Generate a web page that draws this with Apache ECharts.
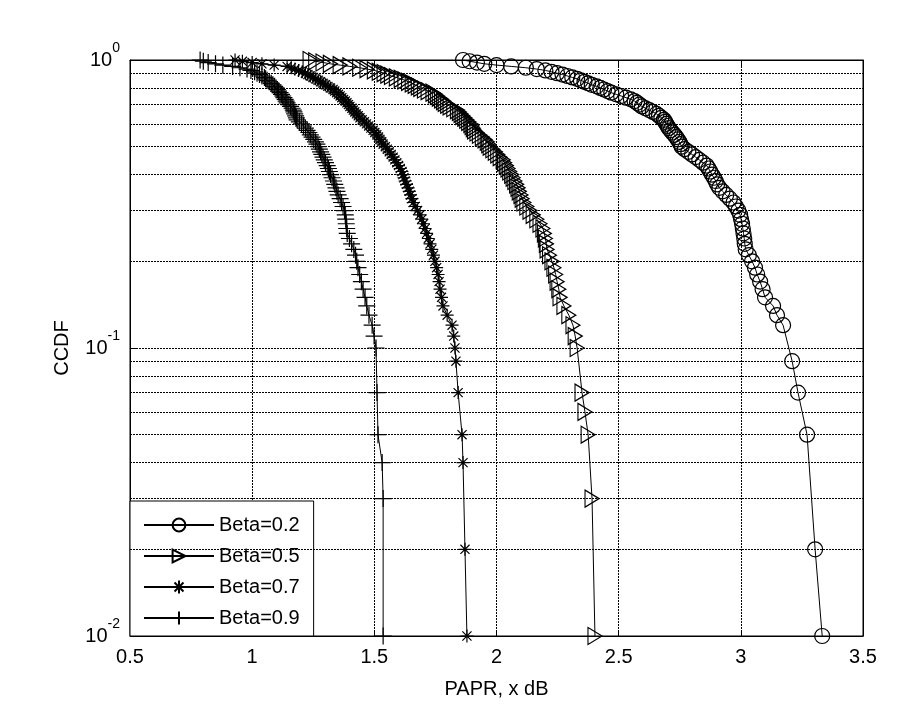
<!DOCTYPE html>
<html>
<head>
<meta charset="utf-8">
<title>CCDF of PAPR</title>
<script src="https://cdn.jsdelivr.net/npm/echarts@6/dist/echarts.min.js"></script>
<style>
  html, body { margin: 0; padding: 0; background: #fff; }
  #chart { width: 921px; height: 724px; }
</style>
</head>
<body>
<div id="chart"></div>
<script>
// CCDF levels shared by every curve (1.00 down to 0.12)
const ccdfTop = [
  1.00, 0.99, 0.98, 0.97, 0.96, 0.95, 0.94, 0.93, 0.92, 0.91,
  0.90, 0.89, 0.88, 0.87, 0.86, 0.85, 0.84, 0.83, 0.82, 0.81,
  0.80, 0.79, 0.78, 0.77, 0.76, 0.75, 0.74, 0.73, 0.72, 0.71,
  0.70, 0.69, 0.68, 0.67, 0.66, 0.65, 0.64, 0.63, 0.62, 0.61,
  0.60, 0.59, 0.58, 0.57, 0.56, 0.55, 0.54, 0.53, 0.52, 0.51,
  0.50, 0.49, 0.48, 0.47, 0.46, 0.45, 0.44, 0.43, 0.42, 0.41,
  0.40, 0.39, 0.38, 0.37, 0.36, 0.35, 0.34, 0.33, 0.32, 0.31,
  0.30, 0.29, 0.28, 0.27, 0.26, 0.25, 0.24, 0.23, 0.22, 0.21,
  0.20, 0.19, 0.18, 0.17, 0.16, 0.15, 0.14, 0.13, 0.12
]

// low end levels where markers show up, per curve
const ccdfTail02 = [0.09, 0.07, 0.05, 0.02, 0.01]
const ccdfTail05 = [0.11, 0.10, 0.07, 0.06, 0.05, 0.03, 0.01]
const ccdfTail07 = [0.11, 0.10, 0.09, 0.07, 0.05, 0.04, 0.02, 0.01]
const ccdfTail09 = [0.11, 0.10, 0.07, 0.05, 0.04, 0.03, 0.01]

// PAPR (dB), same order as ccdfTop + tail
const papr02 = [
  1.863, 1.89, 1.92, 1.95, 2.00, 2.06, 2.12, 2.165, 2.20, 2.225,
  2.248, 2.27, 2.29, 2.31, 2.33, 2.345, 2.36, 2.375, 2.39, 2.41,
  2.425, 2.44, 2.455, 2.47, 2.49, 2.51, 2.53, 2.55, 2.565, 2.575,
  2.585, 2.595, 2.61, 2.625, 2.64, 2.655, 2.665, 2.675, 2.685, 2.69,
  2.695, 2.70, 2.705, 2.712, 2.72, 2.728, 2.735, 2.742, 2.748, 2.753,
  2.758, 2.77, 2.785, 2.80, 2.815, 2.83, 2.845, 2.86, 2.868, 2.875,
  2.882, 2.89, 2.897, 2.903, 2.912, 2.925, 2.94, 2.955, 2.97, 2.98,
  2.99, 2.997, 3.001, 3.005, 3.008, 3.011, 3.014, 3.016, 3.02, 3.033,
  3.046, 3.058, 3.067, 3.079, 3.089, 3.099, 3.132, 3.148, 3.173,
  3.21, 3.234, 3.271, 3.304, 3.333
]
const papr05 = [
  1.237, 1.26, 1.29, 1.32, 1.36, 1.40, 1.44, 1.47, 1.50, 1.52,
  1.54, 1.555, 1.57, 1.59, 1.61, 1.625, 1.64, 1.655, 1.667, 1.68,
  1.69, 1.705, 1.72, 1.74, 1.75, 1.758, 1.766, 1.775, 1.783, 1.79,
  1.80, 1.81, 1.825, 1.84, 1.848, 1.855, 1.862, 1.87, 1.878, 1.886,
  1.895, 1.90, 1.905, 1.91, 1.92, 1.93, 1.942, 1.953, 1.962, 1.968,
  1.974, 1.985, 1.995, 2.005, 2.015, 2.027, 2.033, 2.04, 2.047, 2.054,
  2.062, 2.068, 2.075, 2.082, 2.088, 2.093, 2.10, 2.105, 2.112, 2.124,
  2.137, 2.15, 2.165, 2.178, 2.19, 2.196, 2.20, 2.204, 2.207, 2.217,
  2.227, 2.235, 2.242, 2.248, 2.255, 2.26, 2.276, 2.296, 2.313,
  2.322, 2.33, 2.35, 2.362, 2.375, 2.391, 2.403
]
const papr07 = [
  0.93, 0.96, 1.00, 1.04, 1.09, 1.143, 1.16, 1.175, 1.19, 1.205,
  1.218, 1.228, 1.238, 1.249, 1.26, 1.27, 1.28, 1.29, 1.30, 1.31,
  1.32, 1.331, 1.338, 1.346, 1.353, 1.36, 1.367, 1.374, 1.381, 1.388,
  1.394, 1.40, 1.408, 1.414, 1.42, 1.427, 1.434, 1.441, 1.45, 1.459,
  1.468, 1.477, 1.486, 1.495, 1.502, 1.51, 1.517, 1.523, 1.53, 1.536,
  1.545, 1.553, 1.561, 1.569, 1.577, 1.584, 1.592, 1.599, 1.606, 1.613,
  1.617, 1.621, 1.626, 1.632, 1.638, 1.643, 1.648, 1.654, 1.659, 1.667,
  1.677, 1.687, 1.694, 1.701, 1.708, 1.714, 1.721, 1.728, 1.735, 1.742,
  1.748, 1.755, 1.761, 1.765, 1.769, 1.775, 1.781, 1.798, 1.818,
  1.825, 1.83, 1.834, 1.843, 1.859, 1.863, 1.871, 1.879
]
const papr09 = [
  0.787, 0.80, 0.82, 0.85, 0.88, 0.92, 0.95, 0.979, 0.995, 1.01,
  1.02, 1.03, 1.04, 1.05, 1.055, 1.061, 1.07, 1.078, 1.085, 1.092,
  1.098, 1.103, 1.108, 1.114, 1.12, 1.125, 1.13, 1.135, 1.139, 1.143,
  1.15, 1.157, 1.163, 1.168, 1.171, 1.174, 1.178, 1.181, 1.184, 1.193,
  1.202, 1.21, 1.218, 1.225, 1.232, 1.238, 1.245, 1.252, 1.259, 1.265,
  1.27, 1.275, 1.28, 1.285, 1.29, 1.295, 1.30, 1.307, 1.312, 1.316,
  1.321, 1.327, 1.333, 1.338, 1.343, 1.347, 1.352, 1.36, 1.366, 1.372,
  1.378, 1.381, 1.383, 1.385, 1.387, 1.389, 1.398, 1.407, 1.416, 1.423,
  1.428, 1.433, 1.44, 1.447, 1.454, 1.462, 1.469, 1.478, 1.491,
  1.499, 1.507, 1.511, 1.515, 1.532, 1.536, 1.536
]

const legendNames = ['Beta=0.2', 'Beta=0.5', 'Beta=0.7', 'Beta=0.9']
const xTicks = [0.5, 1, 1.5, 2, 2.5, 3, 3.5]
// minor log grid lines (2..9 x 10^k)
const minorGrid = [0.02, 0.03, 0.04, 0.05, 0.06, 0.07, 0.08, 0.09,
  0.2, 0.3, 0.4, 0.5, 0.6, 0.7, 0.8, 0.9]

const FONT = '"Liberation Sans", Arial, sans-serif'
const FS = 20
const dotted = { color: '#000', width: 1, type: [2, 1] }

function pairs (xs, ys) {
  return xs.map((x, i) => [x, ys[i]])
}

function curve (name, xs, tail, symbol, size, rotate) {
  return {
    name: name,
    type: 'line',
    data: pairs(xs, ccdfTop.concat(tail)),
    symbol: symbol,
    symbolSize: size,
    symbolRotate: rotate || 0,
    showAllSymbol: true,
    lineStyle: { color: '#000', width: 1 },
    itemStyle: { color: 'none', borderColor: '#000', borderWidth: 1.2 },
    emphasis: { disabled: true },
    z: 3
  }
}

const plusPath = 'path://M0,5L10,5M5,0L5,10'
const starPath = 'path://M5,0L5,10M0,5L10,5M1.5,1.5L8.5,8.5M8.5,1.5L1.5,8.5'

const series = [
  curve(legendNames[0], papr02, ccdfTail02, 'circle', 15),
  curve(legendNames[1], papr05, ccdfTail05, 'triangle', [17, 14], -90),
  curve(legendNames[2], papr07, ccdfTail07, starPath, 13),
  curve(legendNames[3], papr09, ccdfTail09, plusPath, 17)
]
series[0].markLine = {
  silent: true,
  symbol: 'none',
  label: { show: false },
  lineStyle: dotted,
  data: minorGrid.map(v => ({ yAxis: v }))
}

function supLabel (v) {
  const e = Math.round(Math.log10(v))
  return '{b|10}{s|' + e + '}'
}

const chart = echarts.init(document.getElementById('chart'))
chart.setOption({
  animation: false,
  backgroundColor: '#fff',
  textStyle: { fontFamily: FONT, color: '#000' },
  grid: { left: 130, right: 58, top: 60, bottom: 88, show: true, borderColor: '#000', borderWidth: 1 },
  legend: {
    data: legendNames,
    orient: 'vertical',
    left: 130,
    top: 501,
    padding: [14, 14, 8, 13],
    itemWidth: 70,
    itemHeight: 16,
    itemGap: 11,
    backgroundColor: '#fff',
    borderColor: '#000',
    borderWidth: 1,
    borderRadius: 0,
    textStyle: { fontSize: FS, color: '#000', fontFamily: FONT },
    selectedMode: false
  },
  xAxis: [{
    type: 'value',
    min: xTicks[0],
    max: xTicks[xTicks.length - 1],
    interval: 0.5,
    name: 'PAPR, x dB',
    nameLocation: 'middle',
    nameGap: 43,
    nameTextStyle: { fontSize: FS, color: '#000', fontFamily: FONT },
    axisLine: { show: true, lineStyle: { color: '#000', width: 1 } },
    axisTick: { show: true, inside: true, length: 6, lineStyle: { color: '#000' } },
    axisLabel: { fontSize: FS, color: '#000', margin: 11, fontFamily: FONT, formatter: v => String(v) },
    splitLine: { show: true, lineStyle: dotted }
  }, {
    type: 'value',
    position: 'top',
    min: xTicks[0],
    max: xTicks[xTicks.length - 1],
    interval: 0.5,
    axisLine: { show: true, lineStyle: { color: '#000', width: 1 } },
    axisTick: { show: true, inside: true, length: 6, lineStyle: { color: '#000' } },
    axisLabel: { show: false },
    splitLine: { show: false }
  }],
  yAxis: [{
    type: 'log',
    logBase: 10,
    min: 0.01,
    max: 1,
    name: 'CCDF',
    nameLocation: 'middle',
    nameGap: 58,
    nameTextStyle: { fontSize: FS, color: '#000', fontFamily: FONT },
    axisLine: { show: true, lineStyle: { color: '#000', width: 1 } },
    axisTick: { show: true, inside: true, length: 6, lineStyle: { color: '#000' } },
    axisLabel: {
      margin: 10,
      fontSize: FS,
      color: '#000',
      fontFamily: FONT,
      formatter: supLabel,
      rich: {
        b: { fontSize: FS, color: '#000', fontFamily: FONT, lineHeight: 38 },
        s: { fontSize: 14, color: '#000', fontFamily: FONT, lineHeight: 14, verticalAlign: 'top' }
      }
    },
    splitLine: { show: true, lineStyle: dotted }
  }, {
    type: 'log',
    logBase: 10,
    min: 0.01,
    max: 1,
    position: 'right',
    axisLine: { show: true, lineStyle: { color: '#000', width: 1 } },
    axisTick: { show: true, inside: true, length: 6, lineStyle: { color: '#000' } },
    axisLabel: { show: false },
    splitLine: { show: false }
  }],
  series: series
})
</script>
</body>
</html>
